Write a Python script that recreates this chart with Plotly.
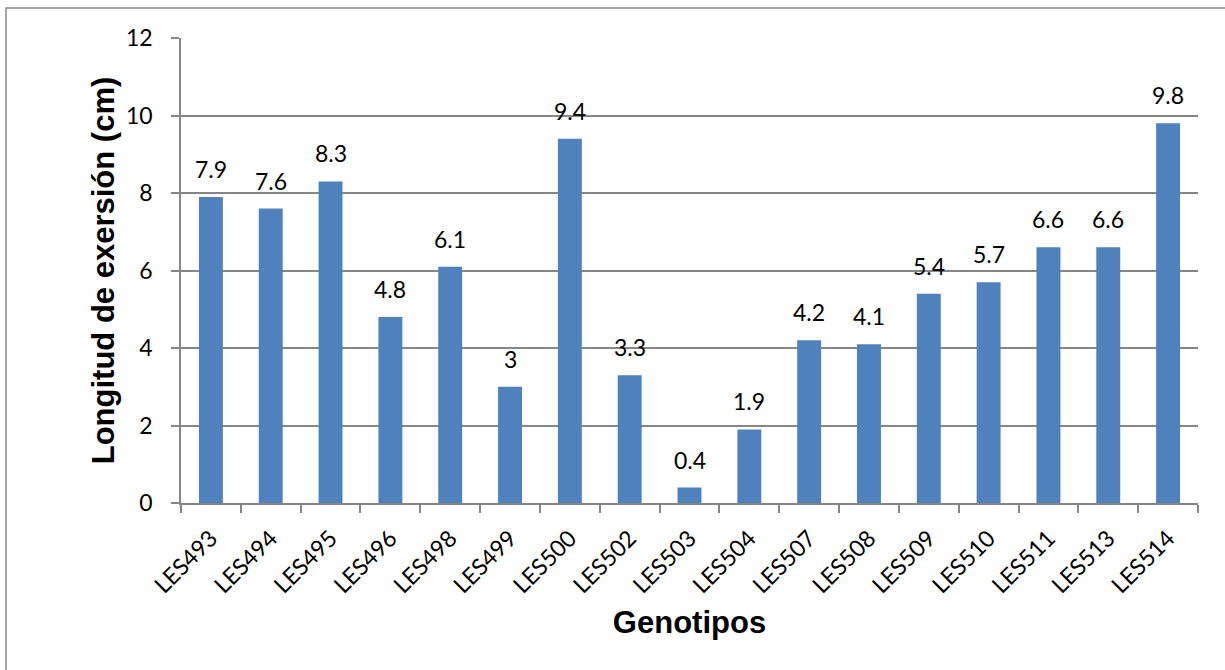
import plotly.graph_objects as go

genotipos = ["LES493", "LES494", "LES495", "LES496", "LES498", "LES499", "LES500",
             "LES502", "LES503", "LES504", "LES507", "LES508", "LES509", "LES510",
             "LES511", "LES513", "LES514"]
longitud = [7.9, 7.6, 8.3, 4.8, 6.1, 3, 9.4, 3.3, 0.4, 1.9, 4.2, 4.1, 5.4, 5.7,
            6.6, 6.6, 9.8]
y_ticks = [0, 2, 4, 6, 8, 10, 12]

W, H = 1225, 670
L, R, T, B = 181, 27, 38, 167
pw, ph = W - L - R, H - T - B

fig = go.Figure(go.Bar(
    x=genotipos, y=longitud,
    marker=dict(color="#4F81BD", line=dict(width=0)),
    hoverinfo="x+y",
))

for g, v in zip(genotipos, longitud):
    fig.add_annotation(x=g, y=v, text=f"{v:g}", showarrow=False,
                       yanchor="bottom", yshift=12,
                       font=dict(family="Lato", size=23, color="#000000"))

# outer frame around the whole chart
fig.add_shape(type="rect", xref="paper", yref="paper",
              x0=-(L - 6) / pw, x1=1 + (R + 20) / pw,
              y0=-(B + 20) / ph, y1=1 + (T - 8) / ph,
              line=dict(color="#868686", width=1.5), fillcolor="rgba(0,0,0,0)",
              layer="below")

fig.update_layout(
    width=W, height=H,
    margin=dict(l=L, r=R, t=T, b=B),
    paper_bgcolor="white", plot_bgcolor="white",
    bargap=0.6,
    showlegend=False,
    xaxis=dict(
        type="category",
        tickangle=-45,
        tickson="boundaries",
        ticks="outside", ticklen=8, tickcolor="#868686", tickwidth=1.5,
        ticklabelstandoff=11,
        showline=True, linecolor="#868686", linewidth=1.5,
        showgrid=False,
        tickfont=dict(family="Lato", size=23, color="#000000"),
        title=dict(text="<b>Genotipos</b>", standoff=14,
                   font=dict(family="Liberation Sans", size=31, color="#000000")),
    ),
    yaxis=dict(
        range=[0, 12],
        tickvals=y_ticks,
        ticks="outside", ticklen=8, tickcolor="#868686", tickwidth=1.5,
        ticklabelstandoff=14,
        showline=True, linecolor="#868686", linewidth=1.5,
        showgrid=True, gridcolor="#868686", gridwidth=1.5,
        zeroline=False,
        tickfont=dict(family="Lato", size=23, color="#000000"),
        title=dict(text="<b>Longitud de exersión (cm)</b>", standoff=2,
                   font=dict(family="Liberation Sans", size=31, color="#000000")),
    ),
)

fig.write_html("out.html")
